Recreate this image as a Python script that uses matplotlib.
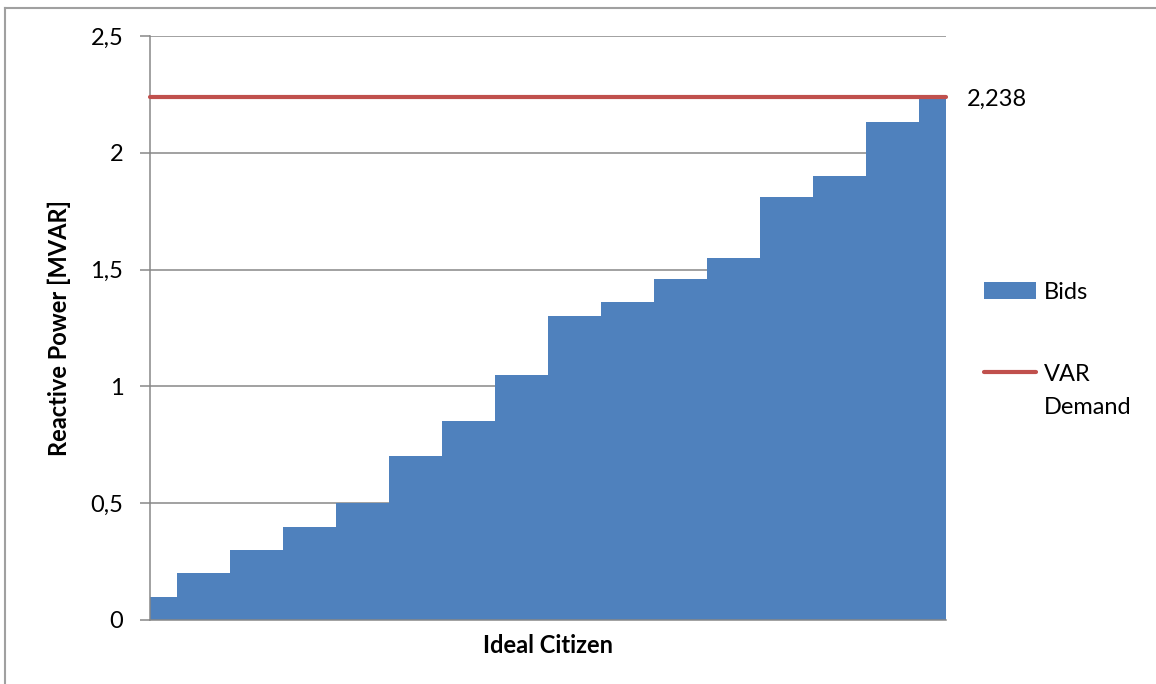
import numpy as np
import matplotlib
matplotlib.use("Agg")
import matplotlib.pyplot as plt
from matplotlib.lines import Line2D
from matplotlib.patches import Patch
from matplotlib.ticker import FuncFormatter
from matplotlib.legend_handler import HandlerLine2D

# Bid quantities of each participant, sorted ascending (MVAR)
bids = [0.1, 0.2, 0.3, 0.4, 0.5, 0.7, 0.85, 1.05, 1.3, 1.36,
        1.46, 1.55, 1.81, 1.9, 2.13, 2.238]
var_demand = 2.238
y_ticks = [0, 0.5, 1, 1.5, 2, 2.5]

plt.rcParams["font.family"] = ["Lato", "DejaVu Sans"]

W, H = 1156, 684
fig = plt.figure(figsize=(W / 100, H / 100), dpi=100)
ax = fig.add_axes([150 / W, 1 - 620 / H, (946 - 150) / W, (620 - 36) / H])

blue = "#4F81BD"
red = "#C0504D"
grid = "#878787"
fs = 17

x = np.arange(len(bids))
ax.fill_between(x, bids, step="mid", color=blue, lw=0, zorder=2)
demand = np.full(len(bids), var_demand)
ax.plot(x, demand, color=red, lw=3.0, solid_capstyle="round",
        zorder=3, clip_on=False)

ax.annotate(f"{var_demand:g}".replace(".", ","), xy=(x[-1], var_demand),
            xytext=(21, -2), textcoords="offset pixels",
            ha="left", va="center", fontsize=fs)

ax.set_xlim(0, len(bids) - 1)
ax.set_ylim(0, 2.5)
ax.set_yticks(y_ticks)
ax.yaxis.set_major_formatter(FuncFormatter(lambda v, p: f"{v:g}".replace(".", ",")))
ax.set_xticks([])
ax.yaxis.grid(True, color=grid, lw=1.1)
ax.set_axisbelow(True)
ax.tick_params(axis="y", direction="out", length=7.2, width=1.1, color=grid,
               labelsize=fs, pad=12)
for side in ("top", "right"):
    ax.spines[side].set_visible(False)
for side in ("left", "bottom"):
    ax.spines[side].set_color(grid)
    ax.spines[side].set_linewidth(1.1)

ax.set_ylabel("Reactive Power [MVAR]", fontsize=fs, fontweight="bold", labelpad=14)
ax.set_xlabel("Ideal Citizen", fontsize=fs, fontweight="bold", labelpad=10)


class TopLineHandler(HandlerLine2D):
    """Line handle aligned with the first line of a two-line label."""
    def __init__(self, shift, **kw):
        super().__init__(**kw)
        self.shift = shift

    def create_artists(self, legend, orig_handle, xdescent, ydescent,
                       width, height, fontsize, trans):
        artists = super().create_artists(legend, orig_handle, xdescent, ydescent,
                                         width, height, fontsize, trans)
        for a in artists:
            a.set_ydata(np.asarray(a.get_ydata()) + self.shift)
        return artists


demand_handle = Line2D([], [], color=red, lw=3.0, solid_capstyle="round")
handles = [Patch(facecolor=blue, edgecolor="none"), demand_handle]
leg = fig.legend(handles, ["Bids", "VAR\nDemand"], loc="upper left",
                 bbox_to_anchor=(984 / W, 1 - 282 / H), frameon=False,
                 fontsize=fs, handlelength=2.2, handletextpad=0.35,
                 labelspacing=2.6, borderpad=0, borderaxespad=0,
                 handler_map={demand_handle: TopLineHandler(shift=14.0)})
for t in leg.get_texts():
    t.set_linespacing(1.7)

# Chart frame (top and left edges)
fig.add_artist(Line2D([5 / W, 5 / W], [0, 1 - 8 / H], transform=fig.transFigure,
                      color="#A0A0A0", lw=1.5))
fig.add_artist(Line2D([5 / W, 1], [1 - 8 / H, 1 - 8 / H], transform=fig.transFigure,
                      color="#A0A0A0", lw=1.5))

fig.savefig("out.png", dpi=100)
